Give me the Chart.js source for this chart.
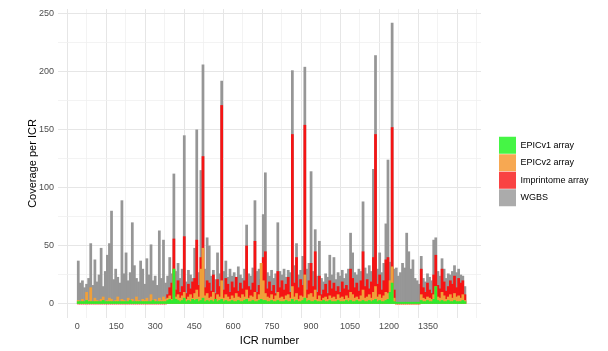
<!DOCTYPE html>
<html>
<head>
<meta charset="utf-8">
<script src="https://cdn.jsdelivr.net/npm/chart.js@4.4.0/dist/chart.umd.min.js"></script>
<style>
html,body{margin:0;padding:0;background:#fff;}
#wrap{width:608px;height:351px;position:relative;}
</style>
</head>
<body>
<div id="wrap"><canvas id="c"></canvas></div>
<script>
// ICRs grouped in bins of 8 consecutive ICR numbers (value = max coverage in the bin)
const binSize = 8;
const seriesNames = ['EPICv1 array', 'EPICv2 array', 'Imprintome array', 'WGBS'];
const xTickLabels = [0, 150, 300, 450, 600, 750, 900, 1050, 1200, 1350];
const yTickLabels = [0, 50, 100, 150, 200, 250];

const wgbs = [
  37,18,20,14,17,22,52,16,38,19,
  25,48,15,28,42,52,80,21,30,23,
  18,89,26,44,20,27,70,33,22,19,
  37,30,17,39,25,51,20,24,16,63,
  22,55,18,24,40,26,112,28,35,22,
  30,145,19,29,25,22,48,150,27,115,
  206,30,57,50,24,29,21,44,26,192,
  28,37,23,30,24,27,20,32,25,22,
  30,68,26,24,31,89,28,30,35,77,
  113,27,24,29,22,26,70,28,25,30,
  23,29,27,201,33,52,25,29,41,204,
  30,35,114,28,64,24,54,22,19,26,
  23,42,25,40,21,27,24,29,22,26,
  30,61,44,27,25,30,28,88,31,26,
  33,28,116,214,30,44,27,35,69,124,
  36,242,30,31,24,27,35,31,61,45,
  30,38,22,20,17,41,22,19,26,23,
  20,55,57,28,24,39,30,22,26,25,
  28,33,27,30,25,24,15
];
const imprintome = [
  0,0,0,0,0,0,0,0,0,0,
  0,0,0,0,0,0,0,0,0,0,
  0,0,0,0,0,0,0,0,0,0,
  0,0,0,0,0,0,0,0,0,0,
  0,0,0,8,14,18,56,12,20,10,
  15,58,9,17,13,19,22,55,16,40,
  127,14,20,18,11,25,9,21,15,171,
  12,22,17,10,19,14,23,11,18,13,
  20,50,15,12,18,54,10,16,21,40,
  45,13,19,11,16,9,28,14,20,12,
  17,23,10,146,18,40,14,21,16,154,
  12,20,35,15,45,10,24,8,12,17,
  9,20,13,18,11,15,10,19,13,16,
  12,30,22,14,18,11,20,45,15,21,
  13,19,40,146,17,25,12,20,38,40,
  18,152,12,0,0,0,0,0,0,0,
  0,0,0,0,0,30,14,10,18,12,
  9,25,42,16,13,30,19,11,15,20,
  17,24,14,22,18,20,8
];
const epicv2 = [
  3,2,4,2,10,3,14,2,5,3,
  2,4,6,2,3,5,4,2,3,6,
  2,4,3,2,5,3,4,2,6,3,
  2,4,3,5,2,8,3,4,2,5,
  3,6,4,5,7,4,30,6,8,5,
  7,10,4,6,8,5,9,12,6,30,
  48,7,9,5,6,10,4,8,6,20,
  5,8,6,4,7,5,9,6,5,8,
  6,12,5,7,6,10,4,8,35,20,
  9,6,5,8,4,7,10,5,6,4,
  7,8,5,15,6,9,4,7,6,25,
  5,8,9,6,12,4,7,3,5,6,
  4,7,5,6,4,8,5,6,4,7,
  5,10,8,5,6,4,7,12,5,6,
  8,5,10,15,6,8,5,7,10,9,
  20,32,5,0,0,0,0,0,0,0,
  0,0,0,0,0,8,5,4,6,5,
  4,8,15,6,5,10,7,4,6,8,
  5,9,6,7,5,8,3
];
const epicv1 = [
  2,2,2,2,3,2,2,2,2,2,
  2,2,3,2,2,2,2,2,2,2,
  2,2,2,2,2,3,2,2,2,2,
  2,2,2,2,2,2,3,2,2,2,
  2,2,2,3,4,3,30,4,3,2,
  3,5,2,3,2,4,3,4,2,3,
  5,2,3,2,3,2,4,2,3,4,
  2,3,2,2,3,2,2,3,2,2,
  3,4,2,2,3,2,2,3,4,3,
  3,2,2,3,2,2,3,2,2,2,
  3,2,2,4,2,3,2,2,3,5,
  2,3,2,2,3,2,2,2,3,2,
  2,3,2,2,2,3,2,2,2,3,
  2,3,2,2,3,2,2,3,2,2,
  3,2,3,4,2,3,2,2,3,4,
  10,18,2,1.5,1.5,1.5,1.5,1.5,1.5,1.5,
  1.5,1.5,1.5,1.5,1.5,3,2,2,3,2,
  2,4,15,3,2,3,2,2,3,2,
  2,3,2,2,2,3,2
];

const icrNumbers = wgbs.map((_, i) => i * binSize + binSize / 2);

const barColors = ['#2fea2f', '#f0a03a', '#f51414', '#969696'];
const legendColors = ['#45f545', '#f7a852', '#f94343', '#ababab'];
const seriesValues = [epicv1, epicv2, imprintome, wgbs];

Chart.defaults.font.family = "'Liberation Sans', Arial, sans-serif";

const datasets = seriesValues.map((vals, i) => ({
  label: seriesNames[i],
  data: vals.map((v, j) => ({ x: icrNumbers[j], y: v })),
  backgroundColor: barColors[i],
  borderWidth: 0,
  barPercentage: 1,
  categoryPercentage: 1,
  grouped: false
}));

const gridColor = (ctx, step) => (ctx.tick && ctx.tick.value % step === 0) ? '#e6e6e6' : '#f0f0f0';
const gridWidth = (ctx, step) => (ctx.tick && ctx.tick.value % step === 0) ? 1 : 0.8;

const legendPlace = {
  id: 'legendPlace',
  afterLayout(chart) {
    const lg = chart.legend;
    if (!lg) return;
    const w = Math.max(lg.width, 105);
    lg.width = w;
    lg.left = 498.5; lg.right = lg.left + w;
    lg.top = 133; lg.bottom = 210; lg.height = 77;
  }
};

const chart = new Chart(document.getElementById('c'), {
  type: 'bar',
  data: { datasets },
  plugins: [legendPlace],
  options: {
    responsive: true,
    maintainAspectRatio: false,
    animation: false,
    layout: { padding: { top: 9, right: 30, bottom: 0, left: 0 } },
    plugins: {
      tooltip: { enabled: false },
      legend: {
        position: 'right',
        labels: {
          boxWidth: 17, boxHeight: 17, padding: 0.5,
          color: '#1a1a1a', font: { size: 9 },
          generateLabels: chart => chart.data.datasets.map((ds, i) => ({
            text: ds.label, fillStyle: legendColors[i], strokeStyle: legendColors[i],
            lineWidth: 0, hidden: false, datasetIndex: i
          }))
        }
      }
    },
    scales: {
      x: {
        type: 'linear', min: -74, max: 1554, offset: false,
        border: { display: false },
        grid: { drawTicks: false, color: c => gridColor(c, 150), lineWidth: c => gridWidth(c, 150) },
        ticks: {
          stepSize: 75, includeBounds: false, autoSkip: false, maxRotation: 0,
          color: '#4d4d4d', font: { size: 9 }, padding: 3,
          callback: v => xTickLabels.includes(v) ? String(v) : ''
        },
        title: { display: true, text: 'ICR number', color: '#000', font: { size: 11 }, padding: { top: 0, bottom: 3 } },
        afterFit: s => { s.height = 33; s.paddingLeft = 0; s.paddingRight = 0; }
      },
      y: {
        min: -12.1, max: 254.1,
        border: { display: false },
        grid: { drawTicks: false, color: c => gridColor(c, 50), lineWidth: c => gridWidth(c, 50) },
        ticks: {
          stepSize: 25, includeBounds: false, autoSkip: false,
          color: '#4d4d4d', font: { size: 9 }, padding: 4,
          callback: v => yTickLabels.includes(v) ? String(v) : ''
        },
        title: { display: true, text: 'Coverage per ICR', color: '#000', font: { size: 11 }, padding: { top: 26, bottom: 0 } },
        afterFit: s => { s.width = 58; s.paddingTop = 0; s.paddingBottom = 0; }
      }
    }
  }
});
// fine-tune so the plotting panel ends at x = 481 like the reference
const extra = chart.chartArea.right - 481;
if (Math.abs(extra) > 0.5) {
  chart.options.layout.padding.right = Math.max(0, chart.options.layout.padding.right + extra);
  chart.update();
}
</script>
</body>
</html>
